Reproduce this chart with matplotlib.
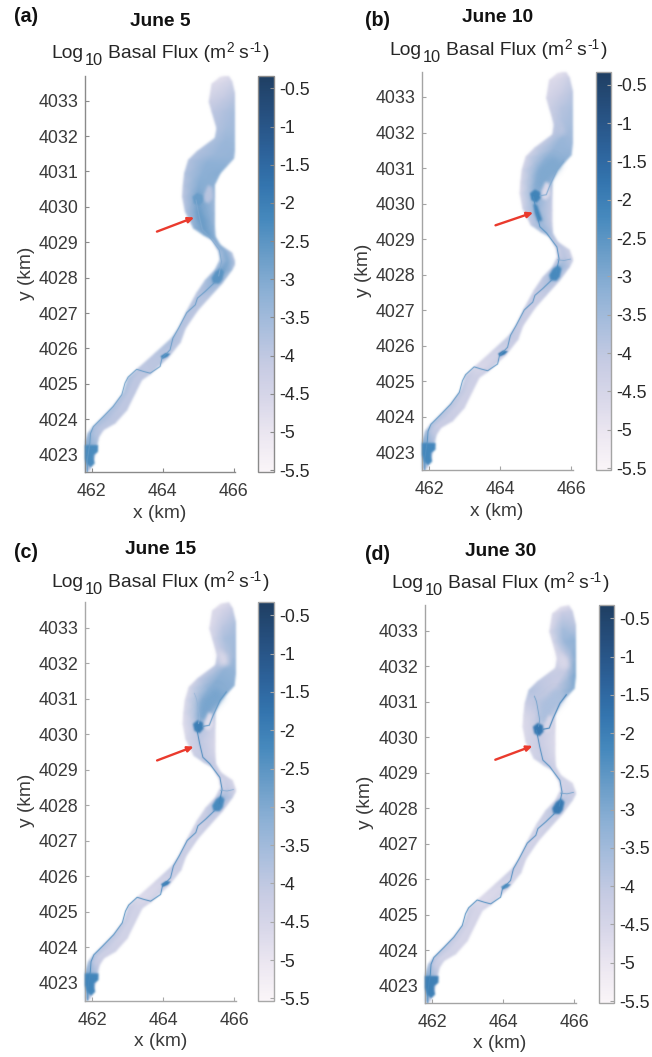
import numpy as np
import matplotlib
matplotlib.use("Agg")
import matplotlib.pyplot as plt
from matplotlib.colors import LinearSegmentedColormap, Normalize
from matplotlib.cm import ScalarMappable

plt.rcParams['font.family'] = ['Liberation Sans', 'DejaVu Sans']
plt.rcParams['axes.unicode_minus'] = False

W, H = 652, 1057

# ---------- river outline (km) ----------
left_x = [465.62,465.39,465.31,465.39,465.53,465.48,464.97,464.73,464.62,464.58,464.56,464.64,464.87,465.15,465.39,465.58,465.62,465.48,465.20,464.96,464.68,464.45,464.26,463.79,463.32,463.03,462.89,462.61,462.33,462.05,461.90,461.80,461.80,461.80,461.80]
left_y = [4033.66,4033.47,4032.97,4032.69,4032.22,4031.94,4031.56,4031.32,4030.95,4030.60,4030.29,4029.87,4029.40,4029.21,4029.07,4028.74,4028.50,4028.22,4027.92,4027.56,4027.04,4026.57,4026.29,4025.86,4025.44,4025.16,4024.73,4024.36,4024.07,4023.79,4023.60,4023.27,4022.85,4022.57,4022.50]
right_x = [465.85,465.95,466.05,466.05,466.06,466.05,466.00,465.80,465.62,465.46,465.46,465.46,465.46,465.48,465.62,465.95,466.05,465.95,465.67,465.29,464.98,464.64,464.50,464.16,463.65,463.41,463.22,462.99,462.66,462.33,462.20,462.14,462.05,461.95,461.85]
right_y = [4033.70,4033.54,4033.11,4032.70,4032.17,4031.80,4031.37,4031.15,4030.95,4030.62,4030.29,4029.80,4029.45,4029.16,4028.92,4028.69,4028.41,4028.22,4027.84,4027.42,4027.07,4026.57,4026.18,4025.75,4025.28,4025.11,4024.73,4024.26,4023.89,4023.70,4023.50,4023.22,4022.85,4022.57,4022.50]

# ---------- log10 flux at left bank / mid-channel / right bank for each station ----------
flux_a_left  = [-4.9,-4.7,-4.3,-4.0,-3.8,-3.7,-3.8,-3.8,-3.8,-3.9,-4.0,-3.8,-3.3,-3.0,-3.4,-3.7,-3.6,-3.5,-3.7,-3.9,-3.8,-3.8,-3.7,-3.9,-4.0,-3.7,-3.7,-3.7,-3.6,-3.6,-3.4,-3.0,-3.0,-3.2,-3.4]
flux_a_mid   = [-4.8,-4.6,-4.1,-3.8,-3.6,-3.4,-3.4,-3.2,-3.2,-3.1,-2.9,-2.8,-2.7,-2.8,-3.0,-3.1,-3.0,-2.8,-3.2,-3.8,-3.9,-3.9,-3.8,-3.9,-4.0,-4.0,-4.0,-4.0,-3.9,-3.9,-3.7,-3.2,-3.2,-3.6,-3.8]
flux_a_right = [-4.7,-4.4,-3.9,-3.6,-3.5,-3.4,-3.3,-3.2,-3.1,-3.2,-3.5,-3.4,-3.3,-3.2,-3.4,-3.8,-3.9,-3.6,-3.6,-3.9,-3.95,-3.95,-3.95,-3.95,-3.95,-4.0,-4.0,-4.0,-4.0,-4.0,-3.9,-3.6,-3.8,-4.0,-4.2]
flux_b_left  = [-4.9,-4.7,-4.5,-4.3,-4.1,-4.0,-4.3,-4.5,-4.5,-4.6,-4.7,-4.4,-4.1,-3.6,-3.9,-4.3,-4.2,-4.0,-4.1,-4.2,-4.1,-4.0,-4.0,-4.4,-4.6,-4.1,-4.0,-3.9,-3.8,-3.7,-3.5,-3.0,-3.0,-3.2,-3.4]
flux_b_mid   = [-4.8,-4.6,-4.2,-3.9,-3.7,-3.4,-3.3,-3.2,-3.2,-3.3,-3.2,-3.3,-3.4,-3.5,-3.8,-4.0,-3.9,-3.3,-3.6,-4.1,-4.2,-4.2,-4.1,-4.4,-4.6,-4.3,-4.3,-4.3,-4.2,-4.2,-3.9,-3.2,-3.2,-3.6,-3.8]
flux_b_right = [-4.7,-4.3,-3.9,-3.7,-3.6,-3.5,-3.3,-3.1,-3.0,-3.4,-4.0,-4.2,-4.2,-3.9,-4.2,-4.3,-4.3,-4.0,-4.0,-4.1,-4.2,-4.2,-4.25,-4.2,-4.25,-4.35,-4.35,-4.35,-4.25,-4.2,-4.1,-3.8,-4.0,-4.2,-4.4]
flux_c_left  = [-4.9,-4.7,-4.7,-4.5,-4.3,-4.0,-4.2,-4.6,-4.7,-4.7,-4.8,-4.6,-4.3,-3.9,-4.1,-4.5,-4.4,-4.2,-4.3,-4.4,-4.2,-4.1,-4.1,-4.5,-4.7,-4.2,-4.1,-4.0,-3.9,-3.8,-3.6,-3.0,-3.0,-3.2,-3.4]
flux_c_mid   = [-4.7,-4.5,-4.0,-3.7,-3.9,-3.3,-3.1,-3.2,-3.3,-3.6,-3.8,-4.0,-4.1,-4.1,-4.2,-4.3,-4.1,-3.5,-3.8,-4.3,-4.4,-4.3,-4.2,-4.5,-4.7,-4.4,-4.4,-4.4,-4.3,-4.3,-4.0,-3.2,-3.2,-3.6,-3.8]
flux_c_right = [-4.6,-4.2,-3.7,-3.5,-3.4,-3.3,-3.2,-3.1,-3.1,-3.8,-4.4,-4.6,-4.5,-4.2,-4.5,-4.5,-4.5,-4.1,-4.2,-4.2,-4.25,-4.25,-4.3,-4.35,-4.35,-4.4,-4.4,-4.4,-4.35,-4.3,-4.2,-3.9,-4.1,-4.3,-4.5]
flux_d_left  = [-4.9,-4.7,-4.6,-4.6,-4.6,-4.3,-4.0,-3.8,-4.2,-4.6,-4.7,-4.6,-4.4,-4.0,-4.1,-4.5,-4.5,-4.3,-4.3,-4.4,-4.3,-4.2,-4.2,-4.5,-4.7,-4.3,-4.2,-4.1,-4.0,-3.9,-3.7,-3.0,-3.0,-3.2,-3.4]
flux_d_mid   = [-4.8,-4.2,-3.6,-3.4,-4.2,-4.1,-4.2,-4.1,-3.9,-4.2,-4.2,-4.2,-4.2,-4.2,-4.3,-4.4,-4.3,-3.9,-3.9,-4.4,-4.5,-4.4,-4.3,-4.6,-4.7,-4.5,-4.5,-4.5,-4.4,-4.4,-4.1,-3.3,-3.3,-3.7,-3.9]
flux_d_right = [-4.7,-4.2,-3.9,-3.2,-3.0,-2.9,-3.0,-3.4,-3.9,-4.4,-4.6,-4.7,-4.6,-4.4,-4.6,-4.6,-4.3,-4.3,-4.3,-4.3,-4.35,-4.35,-4.4,-4.45,-4.45,-4.5,-4.5,-4.5,-4.45,-4.4,-4.3,-4.0,-4.2,-4.4,-4.6]

# ---------- main drainage channel (km) ----------
lower_channel_x = [461.88,461.88,461.95,461.97,462.05,462.33,462.61,462.85,462.94,463.03,463.27,463.46,463.65,463.93,463.98,464.21,464.29,464.45,464.68,464.92,464.98,465.20,465.44]
lower_channel_y = [4022.52,4022.85,4023.32,4023.60,4023.79,4024.07,4024.36,4024.69,4025.02,4025.19,4025.41,4025.35,4025.30,4025.49,4025.72,4025.96,4026.29,4026.57,4027.01,4027.23,4027.42,4027.61,4027.84]
upper_channel_x = [465.58,465.66,465.60,465.31,465.12,465.03,464.94]
upper_channel_y = [4028.05,4028.45,4028.78,4029.17,4029.35,4029.73,4030.19]
east_branch_x = [465.13,465.30,465.41,465.60,465.78]
east_branch_y = [4030.22,4030.25,4030.53,4030.95,4031.19]
north_branch_x = [465.00,465.03,464.99,464.94,464.88]
north_branch_y = [4030.30,4030.48,4030.72,4031.00,4031.15]
side_spur_x = [465.62,465.80,465.98]
side_spur_y = [4028.42,4028.40,4028.44]

# ---------- high-flux patches (km) ----------
upper_pool_x = [464.84,464.98,465.12,465.14,465.02,464.88]
upper_pool_y = [4030.29,4030.40,4030.33,4030.15,4030.02,4030.10]
lower_pool_x = [465.38,465.49,465.63,465.73,465.68,465.59,465.42]
lower_pool_y = [4027.99,4028.17,4028.27,4028.17,4027.94,4027.83,4027.84]
mouth_pool_x = [461.80,462.18,462.18,462.06,462.06,462.09,461.97,461.86,461.80]
mouth_pool_y = [4023.27,4023.27,4023.08,4022.99,4022.87,4022.75,4022.64,4022.74,4022.94]
mid_pool_x = [463.94,464.08,464.22,464.13,463.99]
mid_pool_y = [4025.78,4025.87,4025.85,4025.76,4025.70]
chute_x = [464.93,465.04,465.19,465.07,464.98]
chute_y = [4030.00,4029.96,4029.53,4029.49,4029.72]
fan_x = [464.95,465.05,465.50,465.72,465.45,465.20]
fan_y = [4030.40,4030.95,4031.35,4031.05,4030.75,4030.35]
island_x = [465.18,465.30,465.42,465.40,465.28,465.17]
island_y = [4030.15,4030.10,4030.25,4030.55,4030.62,4030.35]
notch_x = [465.53,465.80,465.86,465.60]
notch_y = [4032.40,4032.20,4031.95,4031.92]

# value of each feature per panel; None = feature absent
titles = ['June 5', 'June 10', 'June 15', 'June 30']
panel_labels = ['(a)', '(b)', '(c)', '(d)']
upper_pool_val = [-2.7, -2.1, -2.0, -1.85]
lower_pool_val = [-2.5, -2.25, -2.25, -1.9]
mouth_pool_val = [-2.3, -2.2, -2.15, -2.05]
mid_pool_val = [-2.2, -1.9, -2.0, -2.4]
chute_val = [-2.7, -2.1, None, None]
fan_val = [None, -3.0, -2.9, -3.7]
island_val = [-3.9, -4.7, -4.8, -4.6]
notch_val = [None, -3.9, -4.6, -4.6]
lower_channel_val = [-2.6, -2.4, -2.25, -2.2]
upper_channel_val = [-3.0, -2.3, -2.1, -2.2]
east_branch_val = [None, -3.0, -2.6, -2.1]
north_branch_val = [None, None, -3.3, -2.7]
side_spur_val = [None, -3.0, -3.0, -2.7]

# arrows (km)
arrow_tail_x = [463.84, 463.87, 463.83, 463.78]
arrow_tail_y = [4029.30, 4029.39, 4029.26, 4029.36]
arrow_tip_x = [464.89, 464.93, 464.86, 464.83]
arrow_tip_y = [4029.70, 4029.75, 4029.65, 4029.75]

# ---------- layout in pixels ----------
ax_left = [84.5, 422, 85, 425]
ax_top = [75.5, 71.7, 602.3, 605.3]
ax_bottom = [472.3, 470.3, 1000.7, 1003.3]
cb_left = [258.3, 595.7, 258.3, 598.7]
spine_col = ['#8a8a8a', '#a4a4a4', '#a8a8a8', '#a4a4a4']
ax_width = 150.9
xlim = (461.8, 466.05)
ylim = (4022.5, 4033.71)
clim = (-5.53, -0.33)

title_xy = [(160, 22), (498, 18), (160.5, 549), (501, 552)]
sub_xy = [(160, 53), (498, 50), (160, 582), (500, 583)]
label_xy = [(26, 17), (377, 21), (26, 553), (377, 555)]
ylabel_xy = [(27, 273), (363, 270), (27, 800), (365, 802)]
xlabel_xy = [(160, 514), (497, 511), (160.5, 1041), (500, 1044)]

xticks = [462, 464, 466]
yticks = [4023, 4024, 4025, 4026, 4027, 4028, 4029, 4030, 4031, 4032, 4033]
cb_ticks = [-0.5, -1, -1.5, -2, -2.5, -3, -3.5, -4, -4.5, -5, -5.5]
cb_labels = ['-0.5', '-1', '-1.5', '-2', '-2.5', '-3', '-3.5', '-4', '-4.5', '-5', '-5.5']

cmap_colors = ['#faf5f8', '#ece7f1', '#d8d7e9', '#c6cbe3', '#a9bedd', '#8cb0d5', '#6a9dc8',
               '#4689bd', '#3374ae', '#2c6097', '#264f7e', '#1f3f63']
cmap = LinearSegmentedColormap.from_list('flux', cmap_colors)
norm = Normalize(*clim)


class Blur:
    """Soften an artist, as the source figure is a slightly blurred raster."""
    def __init__(self, sigma):
        self.sigma = sigma

    def __call__(self, im, dpi):
        pad = int(self.sigma * 3) + 1
        k = np.exp(-0.5 * (np.arange(-pad, pad + 1) / self.sigma) ** 2)
        k /= k.sum()
        h, w = im.shape[:2]
        out = np.zeros((h + 2 * pad, w + 2 * pad, 4))
        out[pad:pad + h, pad:pad + w] = im
        out[..., :3] *= out[..., 3:4]
        for axis in (0, 1):
            out = np.apply_along_axis(lambda m: np.convolve(m, k, mode='same'), axis, out)
        a = np.clip(out[..., 3:4], 1e-6, 1)
        out[..., :3] = np.clip(out[..., :3] / a, 0, 1)
        out[..., 3] = np.clip(out[..., 3], 0, 1)
        return out, -pad, -pad


fig = plt.figure(figsize=(W / 100, H / 100), dpi=100)
fig.patch.set_facecolor('white')
renderer = fig.canvas.get_renderer()
flux_sets = [(flux_a_left, flux_a_mid, flux_a_right), (flux_b_left, flux_b_mid, flux_b_right),
             (flux_c_left, flux_c_mid, flux_c_right), (flux_d_left, flux_d_mid, flux_d_right)]
lx, ly, rx, ry = map(np.array, (left_x, left_y, right_x, right_y))
X = np.column_stack([lx, (lx + rx) / 2, rx])
Y = np.column_stack([ly, (ly + ry) / 2, ry])


def px_box(l, t, r, b):
    return [l / W, 1 - b / H, (r - l) / W, (b - t) / H]


def fill(ax, xs, ys, val, sigma=1.0, z=3):
    if val is None:
        return
    p, = ax.fill(xs, ys, color=cmap(norm(val)), lw=0, zorder=z)
    p.set_agg_filter(Blur(sigma))


def line(ax, xs, ys, val, lw=0.7, z=4):
    if val is None:
        return
    l, = ax.plot(xs, ys, color=cmap(norm(val)), lw=lw, zorder=z, solid_joinstyle='round')
    l.set_agg_filter(Blur(0.5))


def ftext(xy, s, **kw):
    fig.text(xy[0] / W, 1 - xy[1] / H, s, ha='center', va='center', **kw)


def flux_label(cx, cy):
    """Log10 Basal Flux (m2 s-1) with MATLAB-sized sub- and superscripts."""
    main, sub, sup = 13.9, 11.8, 9.8
    pieces = [('Log', main, 0, 2), ('10', sub, 7, 4.5), ('Basal Flux (m', main, 0, 1),
              ('2', sup, -6, 4.5), ('s', main, 0, 1), ('-1', sup, -6, 1), (')', main, 0, 0)]
    base = cy + 5
    made, total = [], 0
    for s, size, dy, gap in pieces:
        t = fig.text(0, 1 - (base + dy) / H, s, fontsize=size, color='#262626', ha='left', va='baseline')
        w = t.get_window_extent(renderer).width
        made.append((t, w, gap))
        total += w + gap
    x = cx - total / 2
    for t, w, gap in made:
        t.set_x(x / W)
        x += w + gap


for i in range(4):
    ax = fig.add_axes(px_box(ax_left[i], ax_top[i], ax_left[i] + ax_width, ax_bottom[i]))
    Z = np.column_stack(flux_sets[i])
    m = ax.pcolormesh(X, Y, Z, shading='gouraud', cmap=cmap, norm=norm, zorder=1)
    m.set_agg_filter(Blur(1.1))
    fill(ax, fan_x, fan_y, fan_val[i], 3.0, 2)
    fill(ax, island_x, island_y, island_val[i], 1.5, 2.5)
    fill(ax, notch_x, notch_y, notch_val[i], 2.5, 2.5)
    fill(ax, chute_x, chute_y, chute_val[i], 1.2 if i == 1 else 2.5, 3)
    fill(ax, upper_pool_x, upper_pool_y, upper_pool_val[i])
    fill(ax, lower_pool_x, lower_pool_y, lower_pool_val[i])
    fill(ax, mouth_pool_x, mouth_pool_y, mouth_pool_val[i])
    fill(ax, mid_pool_x, mid_pool_y, mid_pool_val[i], 0.7)
    line(ax, lower_channel_x, lower_channel_y, lower_channel_val[i])
    line(ax, upper_channel_x, upper_channel_y, upper_channel_val[i])
    line(ax, east_branch_x, east_branch_y, east_branch_val[i], 0.8)
    line(ax, north_branch_x, north_branch_y, north_branch_val[i], 0.6)
    line(ax, side_spur_x, side_spur_y, side_spur_val[i], 0.6)
    ax.set_xlim(*xlim)
    ax.set_ylim(*ylim)
    ax.set_xticks(xticks)
    ax.set_yticks(yticks)
    ax.set_yticklabels([str(t) for t in yticks])
    ax.tick_params(direction='in', length=3.2, width=0.8, color=spine_col[i], labelcolor='#3a3a3a',
                   labelsize=12.9)
    ax.tick_params(axis='y', pad=4.6)
    ax.tick_params(axis='x', pad=8)
    for s in ('top', 'right'):
        ax.spines[s].set_visible(False)
    for s in ('left', 'bottom'):
        ax.spines[s].set_color(spine_col[i])
        ax.spines[s].set_linewidth(1.0)
    ax.annotate('', xy=(arrow_tip_x[i], arrow_tip_y[i]), xytext=(arrow_tail_x[i], arrow_tail_y[i]),
                arrowprops=dict(arrowstyle='-|>,head_length=0.35,head_width=0.16', color='#ea3a2d',
                                lw=1.7, shrinkA=0, shrinkB=0), zorder=6)

    cax = fig.add_axes(px_box(cb_left[i], ax_top[i], cb_left[i] + 15.2, ax_bottom[i]))
    cb = fig.colorbar(ScalarMappable(norm=norm, cmap=cmap), cax=cax)
    cb.set_ticks(cb_ticks)
    cb.set_ticklabels(cb_labels)
    cb.ax.tick_params(direction='in', length=3.2, width=0.8, color=spine_col[i], labelcolor='#2a2a2a',
                      labelsize=12.9, pad=4.2)
    cb.outline.set_edgecolor(spine_col[i])
    cb.outline.set_linewidth(1.0)

    ftext(title_xy[i], titles[i], fontsize=13.8, fontweight='bold', color='#111111')
    flux_label(*sub_xy[i])
    ftext(label_xy[i], panel_labels[i], fontsize=14.2, fontweight='bold', color='#111111')
    ftext(ylabel_xy[i], 'y (km)', fontsize=13.8, rotation=90, color='#3a3a3a')
    ftext(xlabel_xy[i], 'x (km)', fontsize=13.8, color='#3a3a3a')

fig.savefig('out.png', dpi=100)
